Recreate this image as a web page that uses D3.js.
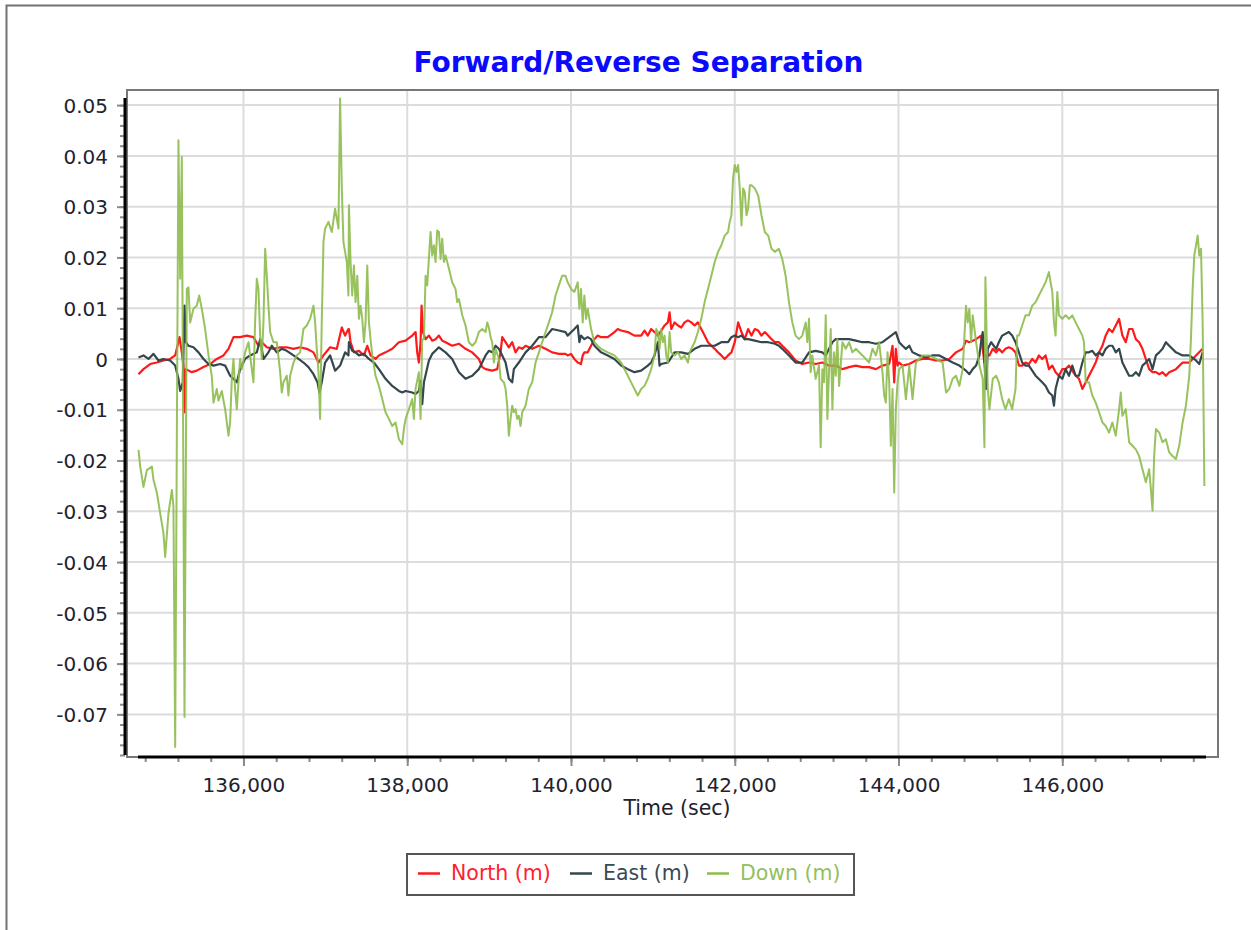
<!DOCTYPE html>
<html>
<head>
<meta charset="utf-8">
<script src="https://cdn.jsdelivr.net/npm/d3@7"></script>
<style>
  body { margin: 0; background: #fff; }
  svg { display: block; font-family: "DejaVu Sans", Verdana, sans-serif; }
</style>
</head>
<body>
<div class="chart"></div>
<script>
// [time (sec), separation (m)]
var north = [
  [134718,-0.0030],[134779,-0.0020],[134860,-0.0010],[134942,-0.0007],[135023,-0.0003],[135105,0.0],[135166,0.0007],[135219,0.0043],[135247,0.0013],[135267,-0.0013],[135280,-0.0105],[135296,-0.0020],[135369,-0.0026],[135430,-0.0023],[135512,-0.0016],[135593,-0.0010],[135674,0.0],[135756,0.0007],[135817,0.0020],[135878,0.0043],[135959,0.0043],[136041,0.0046],[136122,0.0043],[136183,0.0026],[136224,0.0033],[136285,0.0023],[136366,0.0020],[136448,0.0023],[136529,0.0023],[136611,0.0020],[136692,0.0023],[136773,0.0020],[136855,0.0013],[136916,-0.0007],[136977,0.0007],[137058,0.0023],[137140,0.0020],[137201,0.0062],[137241,0.0046],[137282,0.0059],
  [137288,0.0059],[137308,0.0033],[137349,0.0013],[137410,0.0016],[137471,0.0007],[137512,0.0026],[137552,0.0007],[137613,0.0],[137654,0.0007],[137735,0.0013],[137817,0.0020],[137898,0.0033],[137980,0.0036],[138061,0.0046],[138102,0.0053],[138122,0.0013],[138142,-0.0007],[138163,0.0033],[138175,0.0105],[138191,0.0053],[138224,0.0039],[138265,0.0046],[138305,0.0036],[138346,0.0039],[138387,0.0046],[138427,0.0036],[138468,0.0033],[138549,0.0026],[138631,0.0030],[138712,0.0020],[138794,0.0013],[138875,0.0],[138916,-0.0016],[138957,-0.0020],[139038,-0.0023],[139099,-0.0020],[139140,0.0013],[139160,0.0043],[139201,0.0033],[139241,0.0023],[139282,0.0033],[139323,0.0013],[139363,0.0023],[139404,0.0020],[139445,0.0026],[139526,0.0020],[139608,0.0026],[139689,0.0020],[139770,0.0013],[139852,0.0010],[139933,0.0010],
  [139959,0.0007],[140000,0.0010],[140041,0.0],[140082,-0.0007],[140122,-0.0010],[140143,0.0007],[140163,0.0013],[140204,0.0013],[140245,0.0026],[140286,0.0039],[140326,0.0046],[140367,0.0043],[140449,0.0043],[140530,0.0053],[140571,0.0059],[140612,0.0056],[140694,0.0053],[140775,0.0046],[140857,0.0046],[140898,0.0056],[140938,0.0046],[140979,0.0059],[141020,0.0053],[141061,0.0046],[141102,0.0056],[141143,0.0066],[141183,0.0072],[141204,0.0092],[141224,0.0059],[141265,0.0072],[141306,0.0066],[141347,0.0062],[141387,0.0072],[141428,0.0076],[141469,0.0072],[141510,0.0066],[141550,0.0072],[141591,0.0059],[141632,0.0046],[141673,0.0033],[141714,0.0026],[141755,0.0020],[141796,0.0013],[141836,0.0007],[141877,0.0],[141918,0.0007],[141959,0.0013],[142000,0.0033],[142041,0.0072],[142082,0.0053],[142122,0.0039],[142163,0.0059],[142204,0.0046],[142245,0.0059],[142286,0.0056],[142326,0.0046],[142367,0.0053],[142408,0.0046],[142449,0.0039],[142490,0.0033],
  [142539,0.0033],[142580,0.0026],[142662,0.0013],[142743,-0.0003],[142825,-0.0010],[142907,-0.0007],[142988,-0.0010],[143070,-0.0007],[143151,-0.0013],[143233,-0.0013],[143315,-0.0020],[143396,-0.0016],[143478,-0.0013],[143559,-0.0016],[143641,-0.0016],[143723,-0.0020],[143804,-0.0013],[143886,-0.0010],[143906,0.0007],[143927,0.0026],[143947,-0.0046],[143967,0.0020],[143988,-0.0013],[144008,-0.0007],[144049,-0.0013],[144131,-0.0010],[144212,-0.0003],[144294,0.0],[144375,0.0],[144457,-0.0003],[144539,-0.0003],[144620,0.0],[144702,0.0013],[144784,0.0020],[144824,0.0036],[144865,0.0033],[144947,0.0039],[145008,0.0046],[145049,-0.0007],[145069,0.0007],[145110,0.0007],[145151,0.0020],[145192,0.0013],
  [145225,0.0020],[145266,0.0013],[145306,0.0020],[145347,0.0023],[145388,0.0020],[145429,0.0013],[145470,-0.0013],[145510,-0.0013],[145551,-0.0007],[145592,-0.0010],[145633,0.0],[145674,-0.0007],[145714,0.0007],[145755,0.0],[145796,0.0007],[145837,-0.0020],[145878,-0.0013],[145918,-0.0026],[145959,-0.0033],[146000,-0.0020],[146041,-0.0020],[146082,-0.0013],[146122,-0.0023],[146163,-0.0033],[146204,-0.0039],[146245,-0.0059],[146286,-0.0046],[146326,-0.0033],[146367,-0.0020],[146408,-0.0007],[146449,0.0013],[146490,0.0026],[146530,0.0046],[146571,0.0059],[146612,0.0053],[146653,0.0066],[146694,0.0079],[146734,0.0046],[146775,0.0033],[146816,0.0059],[146857,0.0059],[146898,0.0039],[146938,0.0033],[146979,0.0020],[147020,0.0],[147061,-0.0020],[147102,-0.0026],[147143,-0.0026],[147184,-0.0030],[147224,-0.0026],[147265,-0.0033],[147306,-0.0026],[147388,-0.0020],[147469,-0.0007],[147551,-0.0007],[147633,0.0007],[147714,0.0020]
];

var east = [
  [134718,0.0003],[134779,0.0007],[134840,0.0],[134901,0.0010],[134962,-0.0003],[135023,0.0],[135105,-0.0003],[135166,-0.0013],[135206,-0.0039],[135227,-0.0063],[135259,-0.0046],[135280,0.0105],[135296,0.0033],[135328,0.0026],[135389,0.0023],[135451,0.0013],[135512,0.0],[135573,-0.0010],[135634,-0.0013],[135715,-0.0010],[135776,-0.0013],[135837,-0.0033],[135878,-0.0039],[135919,-0.0046],[135959,-0.0020],[136020,0.0],[136081,0.0007],[136163,0.0013],[136204,0.0039],[136244,0.0],[136305,0.0013],[136346,0.0026],[136407,0.0013],[136468,0.0020],[136529,0.0016],[136611,0.0007],[136672,0.0],[136733,-0.0007],[136794,-0.0016],[136855,-0.0030],[136904,-0.0046],[136928,-0.0066],[136956,-0.0046],[136997,-0.0007],[137058,0.0007],[137119,-0.0023],[137180,-0.0013],[137241,0.0013],[137282,0.0007],
  [137288,0.0033],[137328,0.0016],[137369,0.0013],[137410,0.0007],[137471,0.0010],[137532,0.0],[137593,-0.0007],[137654,-0.0020],[137735,-0.0039],[137817,-0.0053],[137898,-0.0063],[137939,-0.0066],[137980,-0.0063],[138061,-0.0066],[138102,-0.0069],[138142,-0.0063],[138163,-0.0043],[138183,-0.0089],[138204,-0.0046],[138265,-0.0003],[138305,0.0010],[138387,0.0023],[138468,0.0013],[138549,0.0],[138631,-0.0026],[138712,-0.0039],[138794,-0.0033],[138875,-0.0020],[138957,0.0007],[138997,0.0016],[139038,0.0013],[139079,0.0026],[139119,0.0020],[139160,0.0007],[139201,-0.0007],[139241,-0.0039],[139282,-0.0046],[139302,-0.0020],[139363,-0.0007],[139445,0.0013],[139526,0.0026],[139608,0.0043],[139689,0.0043],[139770,0.0059],[139852,0.0056],[139933,0.0053],
  [139959,0.0046],[140041,0.0059],[140082,0.0066],[140102,0.0033],[140122,0.0046],[140163,0.0039],[140204,0.0043],[140245,0.0039],[140286,0.0026],[140367,0.0013],[140449,0.0007],[140530,0.0],[140612,-0.0013],[140694,-0.0020],[140775,-0.0026],[140857,-0.0023],[140938,-0.0013],[140979,-0.0007],[141020,0.0007],[141061,0.0033],[141081,-0.0013],[141102,-0.0010],[141183,-0.0007],[141265,0.0013],[141347,0.0013],[141428,0.0010],[141510,0.0020],[141591,0.0026],[141673,0.0026],[141755,0.0026],[141836,0.0033],[141918,0.0033],[141959,0.0043],[142000,0.0046],[142041,0.0043],[142082,0.0046],[142122,0.0039],[142163,0.0039],[142245,0.0036],[142326,0.0033],[142408,0.0033],[142490,0.0030],
  [142539,0.0026],[142580,0.0020],[142662,0.0007],[142743,-0.0007],[142825,-0.0007],[142907,0.0013],[142988,0.0016],[143070,0.0013],[143111,0.0007],[143192,0.0033],[143233,0.0039],[143315,0.0039],[143396,0.0039],[143478,0.0036],[143559,0.0033],[143641,0.0033],[143723,0.0030],[143804,0.0033],[143886,0.0043],[143967,0.0053],[144008,0.0033],[144049,0.0026],[144090,0.0020],[144131,0.0026],[144171,0.0013],[144253,0.0007],[144335,0.0003],[144416,0.0007],[144498,0.0007],[144580,0.0],[144661,-0.0007],[144743,-0.0013],[144824,-0.0023],[144865,-0.0030],[144906,-0.0020],[144947,-0.0013],[144988,0.0007],[145008,0.0033],[145028,0.0053],[145069,-0.0059],[145090,0.0020],[145131,0.0033],[145192,0.0020],
  [145225,0.0033],[145266,0.0046],[145347,0.0053],[145388,0.0046],[145429,0.0033],[145470,0.0013],[145510,-0.0007],[145551,-0.0013],[145592,-0.0013],[145674,-0.0033],[145755,-0.0046],[145796,-0.0053],[145837,-0.0066],[145878,-0.0072],[145898,-0.0092],[145918,-0.0059],[145959,-0.0033],[146000,-0.0039],[146041,-0.0020],[146082,-0.0033],[146122,-0.0013],[146163,-0.0033],[146204,-0.0033],[146245,-0.0007],[146286,0.0013],[146326,0.0013],[146367,0.0016],[146408,0.0007],[146449,0.0013],[146490,0.0007],[146530,0.0020],[146571,0.0026],[146612,0.0026],[146653,0.0013],[146694,0.0020],[146734,-0.0007],[146775,-0.0020],[146816,-0.0033],[146857,-0.0033],[146898,-0.0026],[146938,-0.0033],[146979,-0.0013],[147020,-0.0007],[147061,0.0],[147102,-0.0020],[147143,0.0007],[147184,0.0013],[147224,0.0020],[147265,0.0033],[147306,0.0026],[147388,0.0013],[147469,0.0007],[147551,0.0007],[147633,-0.0003],[147673,-0.0010],[147714,0.0013]
];

var down = [
  [134718,-0.0179],[134739,-0.0212],[134779,-0.0252],[134820,-0.0219],[134882,-0.0212],[134901,-0.0238],[134943,-0.0264],[134983,-0.0304],[135023,-0.0343],[135044,-0.0390],[135084,-0.0304],[135126,-0.0258],[135145,-0.0291],[135166,-0.0764],[135206,0.0431],[135227,0.0158],[135247,0.0398],[135280,-0.0705],[135308,0.0138],[135328,0.0141],[135349,0.0072],[135389,0.0099],[135430,0.0105],[135459,0.0125],[135491,0.0099],[135532,0.0059],[135573,0.0007],[135613,-0.0033],[135634,-0.0086],[135674,-0.0059],[135695,-0.0082],[135735,-0.0063],[135776,-0.0099],[135817,-0.0151],[135837,-0.0125],[135858,-0.0039],[135878,0.0],[135898,-0.0059],[135919,-0.0099],[135939,-0.0046],[135959,0.0],[135980,-0.0020],[136020,0.0013],[136061,0.0033],[136122,-0.0046],[136142,0.0072],[136163,0.0158],[136183,0.0138],[136204,0.0046],[136224,0.0],[136244,0.0072],[136265,0.0217],[136285,0.0164],[136305,0.0105],[136326,0.0053],[136366,0.0033],[136407,0.0033],[136448,-0.0026],[136468,-0.0066],[136488,-0.0046],[136529,-0.0033],[136549,-0.0072],[136570,-0.0033],[136611,-0.0007],[136651,0.0007],[136692,0.0013],[136733,0.0059],[136773,0.0066],[136814,0.0079],[136855,0.0105],[136875,0.0072],[136895,0.0020],[136916,-0.0026],[136936,-0.0118],[136956,0.0072],[136977,0.0230],[136997,0.0257],[137038,0.0270],[137079,0.0250],[137119,0.0296],[137160,0.0257],[137180,0.0513],[137201,0.0336],[137221,0.0230],[137262,0.0191],[137282,0.0125],
  [137288,0.0303],[137308,0.0191],[137328,0.0125],[137349,0.0184],[137369,0.0112],[137390,0.0164],[137410,0.0079],[137430,0.0105],[137451,0.0079],[137471,0.0033],[137491,0.0072],[137512,0.0184],[137532,0.0072],[137552,0.0039],[137573,0.0007],[137613,-0.0033],[137654,-0.0053],[137695,-0.0079],[137735,-0.0105],[137776,-0.0118],[137817,-0.0132],[137858,-0.0125],[137898,-0.0158],[137939,-0.0168],[137959,-0.0138],[137980,-0.0118],[138020,-0.0099],[138061,-0.0079],[138081,-0.0118],[138102,-0.0059],[138142,-0.0026],[138163,-0.0118],[138183,0.0039],[138204,0.0039],[138224,0.0164],[138244,0.0145],[138285,0.0250],[138305,0.0204],[138326,0.0224],[138346,0.0191],[138366,0.0253],[138387,0.0250],[138407,0.0197],[138427,0.0237],[138448,0.0191],[138468,0.0204],[138509,0.0178],[138549,0.0151],[138590,0.0138],[138610,0.0112],[138631,0.0118],[138672,0.0086],[138712,0.0066],[138753,0.0033],[138794,0.0026],[138834,0.0033],[138875,0.0053],[138916,0.0059],[138957,0.0053],[138977,0.0072],[138997,0.0062],[139018,0.0043],[139038,0.0033],[139058,-0.0007],[139079,0.0020],[139119,0.0],[139140,-0.0039],[139180,-0.0046],[139201,-0.0059],[139221,-0.0092],[139241,-0.0151],[139262,-0.0118],[139282,-0.0092],[139302,-0.0105],[139323,-0.0099],[139343,-0.0118],[139363,-0.0112],[139384,-0.0132],[139404,-0.0105],[139445,-0.0092],[139485,-0.0059],[139526,-0.0046],[139567,-0.0007],[139608,0.0013],[139648,0.0033],[139689,0.0053],[139730,0.0072],[139770,0.0092],[139811,0.0125],[139852,0.0145],[139892,0.0164],[139933,0.0164],
  [139959,0.0151],[140000,0.0138],[140041,0.0132],[140082,0.0151],[140102,0.0099],[140122,0.0138],[140143,0.0072],[140163,0.0125],[140184,0.0079],[140204,0.0099],[140245,0.0059],[140286,0.0033],[140326,0.0026],[140367,0.0020],[140449,0.0013],[140530,0.0007],[140612,-0.0007],[140694,-0.0033],[140734,-0.0046],[140775,-0.0059],[140816,-0.0072],[140857,-0.0059],[140898,-0.0053],[140938,-0.0039],[140979,-0.0020],[141020,0.0007],[141041,0.0059],[141061,0.0053],[141081,0.0020],[141102,0.0059],[141122,0.0033],[141143,0.0046],[141163,0.0007],[141183,-0.0007],[141204,0.0053],[141224,0.0013],[141265,0.0007],[141306,0.0013],[141347,0.0],[141387,0.0007],[141428,-0.0007],[141449,0.0013],[141469,0.0020],[141510,0.0033],[141550,0.0053],[141591,0.0079],[141632,0.0112],[141673,0.0138],[141714,0.0164],[141755,0.0191],[141796,0.0211],[141836,0.0224],[141877,0.0243],[141918,0.0250],[141938,0.0270],[141959,0.0283],[141979,0.0355],[142000,0.0382],[142020,0.0368],[142041,0.0382],[142061,0.0336],[142082,0.0263],[142102,0.0336],[142122,0.0329],[142143,0.0283],[142163,0.0296],[142184,0.0342],[142204,0.0342],[142245,0.0336],[142286,0.0322],[142326,0.0283],[142367,0.0250],[142408,0.0243],[142449,0.0217],[142490,0.0211],
  [142539,0.0217],[142580,0.0197],[142621,0.0164],[142662,0.0112],[142703,0.0072],[142743,0.0046],[142784,0.0039],[142825,0.0046],[142866,0.0072],[142886,0.0033],[142907,0.0079],[142927,-0.0026],[142947,0.0007],[142988,-0.0039],[143029,-0.0013],[143049,-0.0174],[143070,-0.0020],[143090,-0.0046],[143111,0.0086],[143131,-0.0118],[143151,-0.0026],[143172,0.0059],[143192,-0.0099],[143213,0.0013],[143233,-0.0033],[143253,0.0039],[143274,-0.0053],[143315,0.0033],[143355,0.0020],[143396,0.0033],[143437,0.0013],[143478,0.0020],[143559,0.0007],[143641,-0.0007],[143682,0.0020],[143723,0.0007],[143763,0.0033],[143804,-0.0026],[143825,-0.0072],[143845,-0.0086],[143866,0.0013],[143886,-0.0046],[143906,-0.0171],[143927,-0.0059],[143947,-0.0263],[143967,-0.0099],[143988,-0.0046],[144008,-0.0020],[144049,-0.0013],[144090,-0.0079],[144131,-0.0013],[144171,-0.0079],[144212,-0.0007],[144253,0.0],[144294,0.0007],[144375,0.0007],[144457,0.0],[144539,-0.0007],[144580,-0.0066],[144620,-0.0059],[144661,-0.0039],[144702,-0.0033],[144743,-0.0053],[144784,-0.0020],[144824,0.0105],[144845,0.0072],[144865,0.0099],[144886,0.0033],[144906,0.0086],[144947,0.0033],[144988,-0.0013],[145028,-0.0039],[145049,-0.0174],[145061,0.0161],[145090,-0.0059],[145110,-0.0099],[145151,-0.0039],[145192,-0.0033],
  [145225,-0.0046],[145266,-0.0079],[145306,-0.0099],[145347,-0.0079],[145388,-0.0099],[145408,-0.0079],[145429,-0.0059],[145449,0.0046],[145470,0.0046],[145510,0.0066],[145551,0.0086],[145592,0.0086],[145633,0.0105],[145674,0.0112],[145714,0.0125],[145755,0.0138],[145796,0.0151],[145837,0.0171],[145857,0.0151],[145878,0.0132],[145898,0.0072],[145918,0.0046],[145939,0.0132],[145959,0.0086],[146000,0.0079],[146041,0.0086],[146082,0.0079],[146122,0.0086],[146163,0.0072],[146204,0.0059],[146245,0.0046],[146265,0.0033],[146286,-0.0046],[146326,-0.0046],[146367,-0.0072],[146408,-0.0086],[146449,-0.0105],[146490,-0.0125],[146530,-0.0132],[146571,-0.0145],[146612,-0.0125],[146653,-0.0151],[146694,-0.0099],[146714,-0.0066],[146734,-0.0112],[146775,-0.0099],[146816,-0.0164],[146857,-0.0171],[146898,-0.0178],[146938,-0.0191],[146979,-0.0217],[147020,-0.0243],[147061,-0.0217],[147082,-0.0257],[147102,-0.0299],[147122,-0.0191],[147143,-0.0138],[147184,-0.0145],[147224,-0.0164],[147265,-0.0158],[147306,-0.0184],[147347,-0.0191],[147388,-0.0197],[147428,-0.0171],[147469,-0.0125],[147510,-0.0092],[147551,-0.0033],[147571,0.0039],[147592,0.0138],[147612,0.0204],[147653,0.0243],[147673,0.0204],[147694,0.0217],[147714,0.0072],[147735,-0.0250]
];

var yTicks = [0.05, 0.04, 0.03, 0.02, 0.01, 0, -0.01, -0.02, -0.03, -0.04, -0.05, -0.06, -0.07];
var xTicks = [136000, 138000, 140000, 142000, 144000, 146000];
var seriesNames = ["North (m)", "East (m)", "Down (m)"];
var lineColors = ["#ff1a1a", "#34474d", "#8dbb4c"];
var textColors = ["#ff2030", "#3a4a55", "#93c060"];

var svgW = 1251, svgH = 930;

var svg = d3.select(".chart").append("svg")
    .attr("width", svgW)
    .attr("height", svgH);

// outer frame (runs off the right/bottom edge)
svg.append("rect")
    .attr("x", 6.5).attr("y", 5.5)
    .attr("width", 1300).attr("height", 1000)
    .attr("fill", "none")
    .attr("stroke", "#727272")
    .attr("stroke-width", 2);

svg.append("text")
    .attr("x", 638.5)
    .attr("y", 72)
    .attr("text-anchor", "middle")
    .style("font-size", "28px")
    .style("font-weight", "bold")
    .style("fill", "#0a0aff")
    .text("Forward/Reverse Separation");

var xLS = d3.scaleLinear().domain([134712, 147755]).range([138, 1206]);
var yLS = d3.scaleLinear().domain([-0.078, 0.0514]).range([755, 98]);

var plotL = 127, plotR = 1218, plotT = 90, plotB = 757;

// grid
svg.append("g").selectAll("line")
    .data(yTicks).enter().append("line")
    .attr("x1", plotL).attr("x2", plotR - 1)
    .attr("y1", function(d) { return yLS(d); })
    .attr("y2", function(d) { return yLS(d); })
    .attr("stroke", "#dcdcdc").attr("stroke-width", 2);

svg.append("g").selectAll("line")
    .data(xTicks).enter().append("line")
    .attr("y1", plotT).attr("y2", plotB)
    .attr("x1", function(d) { return xLS(d); })
    .attr("x2", function(d) { return xLS(d); })
    .attr("stroke", "#dcdcdc").attr("stroke-width", 2);

// plot frame
svg.append("rect")
    .attr("x", plotL).attr("y", plotT)
    .attr("width", plotR - plotL).attr("height", plotB - plotT)
    .attr("fill", "none")
    .attr("stroke", "#777")
    .attr("stroke-width", 2);

// minor ticks
var yMinor = d3.range(-78, 52, 2).map(function(d) { return d / 1000; });
var xMinor = d3.range(134800, 147800, 400);

var yMinorAxis = d3.axisLeft(yLS).tickValues(yMinor).tickSize(5).tickFormat("").tickSizeOuter(0);
var xMinorAxis = d3.axisBottom(xLS).tickValues(xMinor).tickSize(5).tickFormat("").tickSizeOuter(0);

svg.append("g").attr("class", "minor").attr("transform", "translate(125,0)").call(yMinorAxis);
svg.append("g").attr("class", "minor").attr("transform", "translate(0," + plotB + ")").call(xMinorAxis);

var lAxis = d3.axisLeft(yLS).tickValues(yTicks).tickSize(8).tickPadding(9).tickSizeOuter(0)
    .tickFormat(function(d) { return d === 0 ? "0" : d.toFixed(2); });
var bAxis = d3.axisBottom(xLS).tickValues(xTicks).tickSize(9).tickSizeOuter(0)
    .tickFormat(d3.format(","));

var yG = svg.append("g").attr("class", "y-axis").attr("transform", "translate(125,0)").call(lAxis);
var xG = svg.append("g").attr("class", "x-axis").attr("transform", "translate(0," + plotB + ")").call(bAxis);

svg.selectAll(".minor path, .y-axis path, .x-axis path").remove();
svg.selectAll(".minor line, .y-axis line, .x-axis line").attr("stroke", "#8a8a8a").attr("stroke-width", 2);

yG.selectAll("text")
    .style("font-size", "20px")
    .style("fill", "#22222e")
    .attr("dy", "0.36em")
    .style("font-family", "'DejaVu Sans', Verdana, sans-serif");

xG.selectAll("text")
    .style("font-size", "20px")
    .style("fill", "#22222e")
    .attr("y", 35)
    .attr("dy", "0")
    .style("font-family", "'DejaVu Sans', Verdana, sans-serif");

// axis lines
svg.append("line")
    .attr("x1", 125).attr("x2", 125)
    .attr("y1", yLS.range()[1]).attr("y2", yLS.range()[0])
    .attr("stroke", "#000").attr("stroke-width", 3);

svg.append("line")
    .attr("x1", xLS.range()[0]).attr("x2", xLS.range()[1])
    .attr("y1", plotB).attr("y2", plotB)
    .attr("stroke", "#000").attr("stroke-width", 3);

svg.append("text")
    .attr("x", 677)
    .attr("y", 815)
    .attr("text-anchor", "middle")
    .style("font-size", "20.5px")
    .style("fill", "#22222e")
    .text("Time (sec)");

// series
var line = d3.line()
    .x(function(d) { return xLS(d[0]); })
    .y(function(d) { return yLS(d[1]); });

var Chrt = svg.append("g");
[north, east, down].forEach(function(series, i) {
    Chrt.append("path")
        .datum(series)
        .attr("d", line)
        .attr("fill", "none")
        .attr("stroke", lineColors[i])
        .attr("stroke-width", i === 2 ? 2 : 2.2)
        .attr("stroke-opacity", i === 2 ? 0.9 : 1)
        .attr("stroke-linejoin", "round");
});

// legend
var legend = svg.append("g").attr("transform", "translate(407,854)");
legend.append("rect")
    .attr("width", 447).attr("height", 41)
    .attr("fill", "#fff")
    .attr("stroke", "#555").attr("stroke-width", 2);

var legendX = [11, 163, 300];
seriesNames.forEach(function(name, i) {
    var item = legend.append("g").attr("transform", "translate(" + legendX[i] + ",0)");
    item.append("line")
        .attr("x1", 0).attr("x2", 22)
        .attr("y1", 19.5).attr("y2", 19.5)
        .attr("stroke", lineColors[i]).attr("stroke-width", 2.5);
    item.append("text")
        .attr("x", 33).attr("y", 26)
        .style("font-size", "20.5px")
        .style("fill", textColors[i])
        .text(name);
});
</script>
</body>
</html>
